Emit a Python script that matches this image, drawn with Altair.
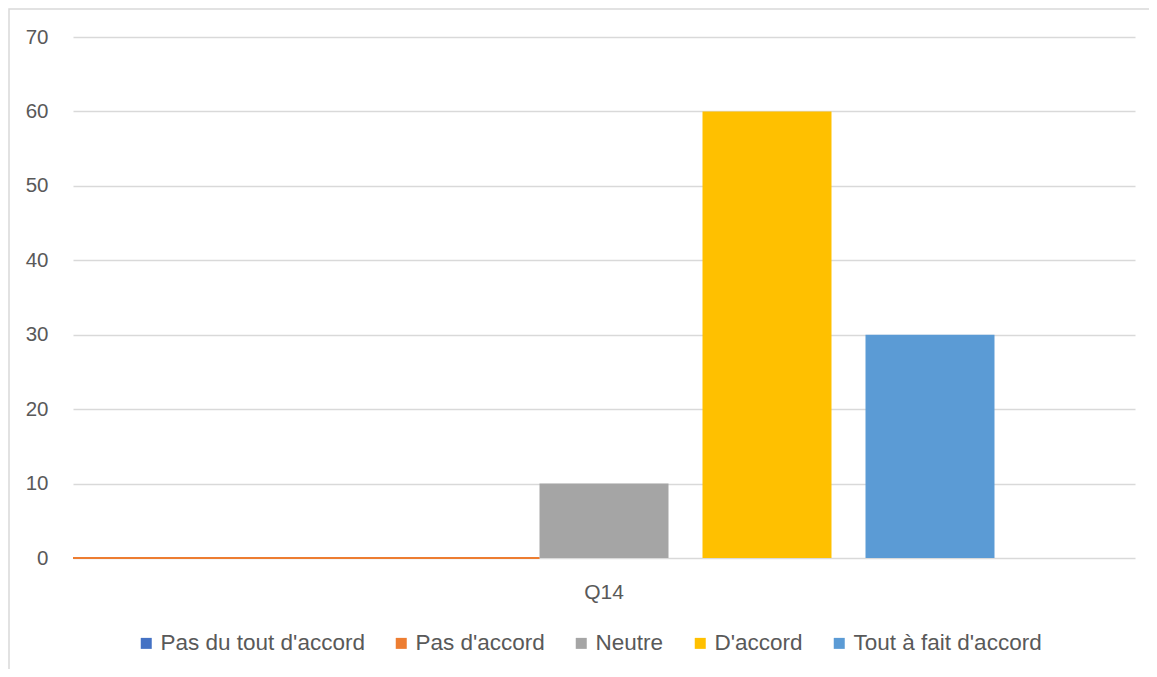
import altair as alt
import pandas as pd

# ---- data ----
categories = ["Q14"]
series = ["Pas du tout d'accord", "Pas d'accord", "Neutre", "D'accord", "Tout à fait d'accord"]
values = [0, 0, 10, 60, 30]
colors = ["#4472C4", "#ED7D31", "#A5A5A5", "#FFC000", "#5B9BD5"]
y_ticks = [0, 10, 20, 30, 40, 50, 60, 70]

df = pd.DataFrame({
    "question": categories * len(series),
    "reponse": series,
    "valeur": values,
})

# ---- layout ----
W, H = 1062, 521
PAD_L, PAD_T, PAD_R, PAD_B = 65, 29, 14, 111
FONT = "Liberation Sans"
TXT = "#595959"
GRID = "#D9D9D9"

# band layout of the clustered bars
inner = 34 / 163
outer = 0.862
step = W / (len(series) - inner + 2 * outer)
zero_line_end = outer * step + 2 * step  # start of the first non-zero bar

base = alt.Chart(df)

bars = base.mark_bar().encode(
    x=alt.X(
        "question:N",
        title=None,
        scale=alt.Scale(paddingInner=0, paddingOuter=0),
        axis=alt.Axis(labelAngle=0, ticks=False, domain=False, grid=False,
                      labelPadding=23, labelFontSize=21, labelColor=TXT,
                      labelFont=FONT),
    ),
    xOffset=alt.XOffset(
        "reponse:N", sort=series,
        scale=alt.Scale(paddingInner=inner, paddingOuter=outer),
    ),
    y=alt.Y(
        "valeur:Q",
        title=None,
        scale=alt.Scale(domain=[0, 70], nice=False),
        axis=alt.Axis(values=y_ticks, grid=True, gridColor=GRID, gridWidth=1.5,
                      domain=False, ticks=False, labelPadding=25,
                      labelFontSize=20.5, labelColor=TXT, labelFont=FONT),
    ),
    color=alt.Color(
        "reponse:N", sort=series,
        scale=alt.Scale(domain=series, range=colors),
        legend=alt.Legend(
            title=None, orient="none", direction="horizontal",
            legendX=62, legendY=595, padding=0,
            symbolType="square", symbolSize=121, symbolStrokeWidth=0,
            symbolOpacity=1, labelFontSize=22.5, labelColor=TXT, labelFont=FONT,
            labelOffset=3, columnPadding=25, labelLimit=400,
        ),
    ),
)

zero_rule = alt.Chart(pd.DataFrame({"v": [0]})).mark_rule(
    color="#ED7D31", strokeWidth=2
).encode(
    y=alt.Y("v:Q"),
    x=alt.value(0),
    x2=alt.value(zero_line_end),
)

frame = alt.Chart(pd.DataFrame({"v": [0]})).mark_rect(
    fill=None, stroke=GRID, strokeWidth=1.5
).encode(
    x=alt.value(-PAD_L + 1),
    x2=alt.value(W + PAD_R + 50),
    y=alt.value(-PAD_T + 1),
    y2=alt.value(H + PAD_B + 50),
)

chart = alt.layer(frame, bars, zero_rule).properties(
    width=W, height=H,
    background="white",
    autosize=alt.AutoSizeParams(type="none"),
    padding={"left": PAD_L, "top": PAD_T, "right": PAD_R, "bottom": PAD_B},
).configure_view(strokeWidth=0, stroke="transparent")

chart.save("out.html", embed_options={"renderer": "svg", "actions": False})
